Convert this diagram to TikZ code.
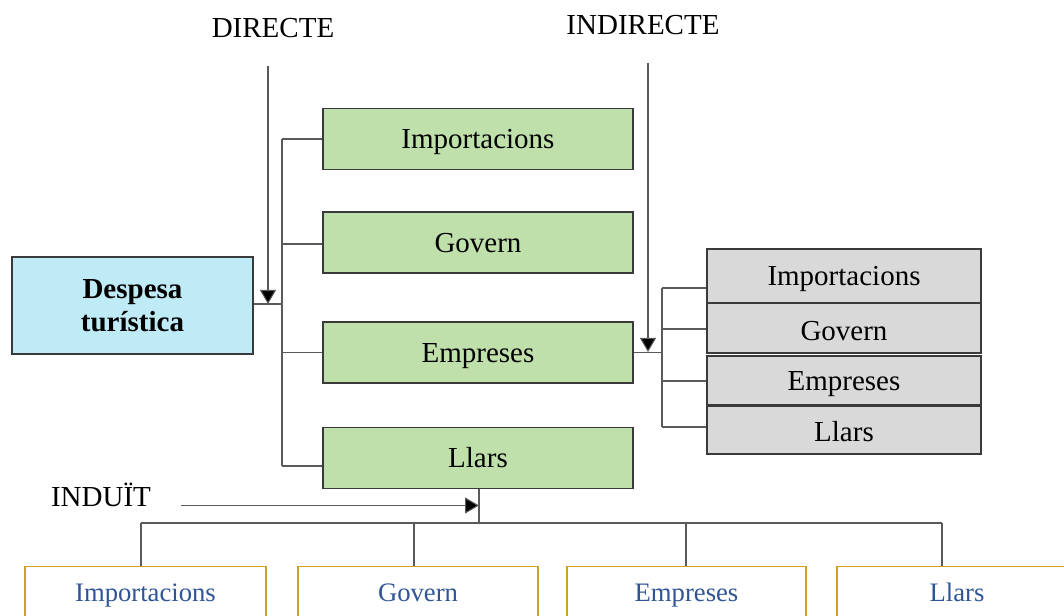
\documentclass[tikz,border=0pt]{standalone}
\usepackage{fontspec}
\setmainfont{Liberation Serif}
\usetikzlibrary{arrows.meta}
\definecolor{cyanfill}{HTML}{BEEBF6}
\definecolor{greenfill}{HTML}{C0E0AB}
\definecolor{grayfill}{HTML}{D9D9D9}
\definecolor{goldline}{HTML}{CFA021}
\definecolor{bluetext}{HTML}{2F5597}
\definecolor{wire}{HTML}{5A5A5A}
\definecolor{boxline}{HTML}{3A3A3A}
\begin{document}
\begin{tikzpicture}[x=0.75pt,y=-0.75pt,
  txt/.style={font=\fontsize{21.75}{26}\selectfont, inner sep=0pt},
  basebox/.style={draw=boxline, line width=0.9pt, inner sep=0pt, font=\fontsize{21.75}{26}\selectfont},
  fixtxt/.style={text height=14.8pt, text depth=0pt},
  greenbox/.style={basebox, fixtxt, fill=greenfill, minimum width=232.5pt, minimum height=45.75pt},
  graybox/.style={basebox, fixtxt, fill=grayfill, minimum width=205.5pt},
  botbox/.style={draw=goldline, line width=0.8pt, inner sep=0pt, text=bluetext,
     text height=13.6pt, text depth=0pt,
     font=\fontsize{20}{24}\selectfont, minimum height=39pt, anchor=north},
  wireline/.style={draw=wire, line width=0.8pt},
  arr/.style={wireline, -{Triangle[length=10.5pt,width=12pt,fill=black]}}
]
\clip (0,0) rectangle (1064,616);

% left box
\node[basebox, fill=cyanfill, minimum width=180.75pt, minimum height=72.75pt,
      align=center, font=\fontsize{21.75}{25}\selectfont\bfseries] (desp) at (132.5,305.5) {Despesa\\turística};

% green boxes
\node[greenbox] (gimp) at (478,139) {Importacions};
\node[greenbox] (ggov) at (478,242.5) {Govern};
\node[greenbox] (gemp) at (478,352.5) {Empreses};
\node[greenbox] (gll)  at (478,458) {Llars};

% gray boxes
\node[graybox, minimum height=40.5pt]  (rimp) at (844,276)   {Importacions};
\node[graybox, minimum height=37.5pt]  (rgov) at (844,328)   {\raisebox{-2pt}{Govern}};
\node[graybox, minimum height=36.75pt] (remp) at (844,380.5) {Empreses};
\node[graybox, minimum height=36pt]    (rll)  at (844,430)   {\raisebox{-1pt}{Llars}};

% bottom boxes
\node[botbox, minimum width=180.75pt] (bimp) at (145.5,566) {Importacions};
\node[botbox, minimum width=180pt]    (bgov) at (418,566)   {Govern};
\node[botbox, minimum width=179.25pt] (bemp) at (686.5,566) {Empreses};
\node[botbox, minimum width=180pt]    (bll)  at (957,566)   {Llars};

% labels
\node[txt] (ldir) at (273,28) {DIRECTE};
\node[txt] (lind) at (643,25) {INDIRECTE};
\node[txt] (lindu) at (101,495) {INDUÏT};

% left bus
\coordinate (lbtop) at (282,139);
\coordinate (lbbot) at (282,466);
\coordinate (lbmid) at (282,304);
\draw[wireline] (lbtop) -- (lbbot);
\draw[wireline] (desp.east |- lbmid) -- (lbmid);
\draw[wireline] (lbtop) -- (gimp.west |- lbtop);
\draw[wireline] (282,244) -- (ggov.west |- 0,244);
\draw[wireline] (282,352.5) -- (gemp.west);
\draw[wireline] (lbbot) -- (gll.west |- lbbot);

% right bus
\coordinate (rbtop) at (662,288);
\coordinate (rbbot) at (662,427);
\coordinate (rbmid) at (662,352.5);
\draw[wireline] (rbtop) -- (rbbot);
\draw[wireline] (gemp.east) -- (rbmid);
\draw[wireline] (rbtop) -- (rimp.west |- rbtop);
\draw[wireline] (662,329) -- (rgov.west |- 0,329);
\draw[wireline] (662,381) -- (remp.west |- 0,381);
\draw[wireline] (rbbot) -- (rll.west |- rbbot);

% bottom bus
\coordinate (bjoin) at (479,523);
\coordinate (bleft) at (141,523);
\coordinate (bright) at (942,523);
\draw[wireline] (gll.south -| bjoin) -- (bjoin);
\draw[wireline] (bleft) -- (bright);
\draw[wireline] (bleft) -- (bleft |- bimp.north);
\draw[wireline] (414,523) -- (414,566);
\draw[wireline] (686,523) -- (686,566);
\draw[wireline] (bright) -- (bright |- bll.north);

% arrows
\coordinate (dirstart) at (268,66);
\coordinate (indstart) at (648,63);
\coordinate (industart) at (181,505.5);
\draw[arr] (dirstart) -- (268,304);
\draw[arr] (indstart) -- (648,352);
\draw[arr] (industart) -- (479,505.5);
\end{tikzpicture}
\end{document}
